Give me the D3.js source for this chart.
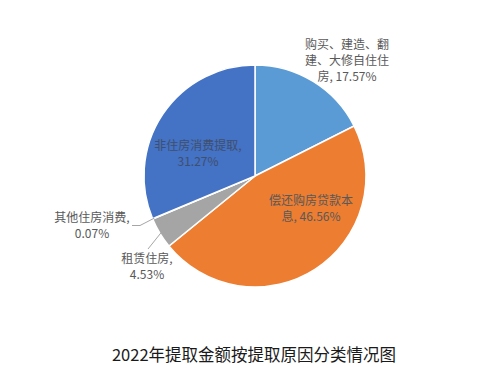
<!DOCTYPE html>
<html>
<head>
<meta charset="utf-8">
<script src="https://cdn.jsdelivr.net/npm/d3@7"></script>
<style>
  html, body { margin: 0; padding: 0; background: #fff; }
  svg { display: block; }
</style>
</head>
<body>
<svg id="chart"></svg>
<script>
// Données : répartition des retraits par motif (2022)
const categories = [
  "购买、建造、翻建、大修自住住房",
  "偿还购房贷款本息",
  "租赁住房",
  "其他住房消费",
  "非住房消费提取"
];
const values = [17.57, 46.56, 4.53, 0.07, 31.27];
const labelLines = [
  ["购买、建造、翻", "建、大修自住住", "房, 17.57%"],
  ["偿还购房贷款本", "息, 46.56%"],
  ["租赁住房,", "4.53%"],
  ["其他住房消费,", "0.07%"],
  ["非住房消费提取,", "31.27%"]
];
const title = "2022年提取金额按提取原因分类情况图";

const colors = ["#5B9BD5", "#ED7D31", "#A5A5A5", "#FFC000", "#4472C4"];

const width = 483;
const height = 378;
const cx = 255, cy = 176, radius = 111;

const svg = d3.select("#chart").attr("width", width).attr("height", height);
const font = "'Noto Sans CJK SC', 'Noto Sans', sans-serif";

const data = categories.map((c, i) => ({ cat: c, value: values[i], lines: labelLines[i] }));

const pie = d3.pie().value((d) => d.value).sort(null);
const arc = d3.arc().innerRadius(0).outerRadius(radius);
const arcs = pie(data);

const g = svg.append("g").attr("transform", `translate(${cx}, ${cy})`);

g.selectAll("path")
  .data(arcs)
  .enter()
  .append("path")
  .attr("d", arc)
  .attr("fill", (d, i) => colors[i])
  .attr("stroke", "#fff")
  .attr("stroke-width", 1.5);

// Position des étiquettes (décalage par rapport au centre), couleur du texte
const labelPos = [
  { x: 92, y: -115, fill: "#595959" },
  { x: 56, y: 33, fill: "#595959" },
  { x: -108, y: 91, fill: "#595959" },
  { x: -163, y: 50, fill: "#595959" },
  { x: -57, y: -22, fill: "#3F4F6E" }
];

// Lignes de rappel pour les petites parts
const leaders = [
  { i: 2, via: [], to: [-107, 73] },
  { i: 3, via: [[-115, 49.5]], to: [-123, 49.5] }
];
leaders.forEach((l) => {
  const a = arcs[l.i];
  const mid = (a.startAngle + a.endAngle) / 2;
  const px = Math.sin(mid) * (radius - 2), py = -Math.cos(mid) * (radius - 2);
  const pts = [[px, py], ...l.via, l.to];
  g.append("path")
    .attr("d", d3.line()(pts))
    .attr("fill", "none")
    .attr("stroke", "#A6A6A6")
    .attr("stroke-width", 1);
});

const labels = g.selectAll(".lbl")
  .data(arcs)
  .enter()
  .append("text")
  .attr("class", "lbl")
  .attr("text-anchor", "middle")
  .attr("font-family", font)
  .attr("font-size", 12)
  .attr("fill", (d, i) => labelPos[i].fill)
  .attr("transform", (d, i) => `translate(${labelPos[i].x}, ${labelPos[i].y})`);

labels.each(function (d) {
  const t = d3.select(this);
  const n = d.data.lines.length;
  d.data.lines.forEach((line, k) => {
    t.append("tspan")
      .attr("x", 0)
      .attr("y", (k - (n - 1) / 2) * 16 + 4)
      .text(line);
  });
});

// Titre
svg.append("text")
  .attr("x", 254)
  .attr("y", 361)
  .attr("text-anchor", "middle")
  .attr("font-family", font)
  .attr("font-size", 16.5)
  .attr("fill", "#1a1a1a")
  .text(title);
</script>
</body>
</html>
